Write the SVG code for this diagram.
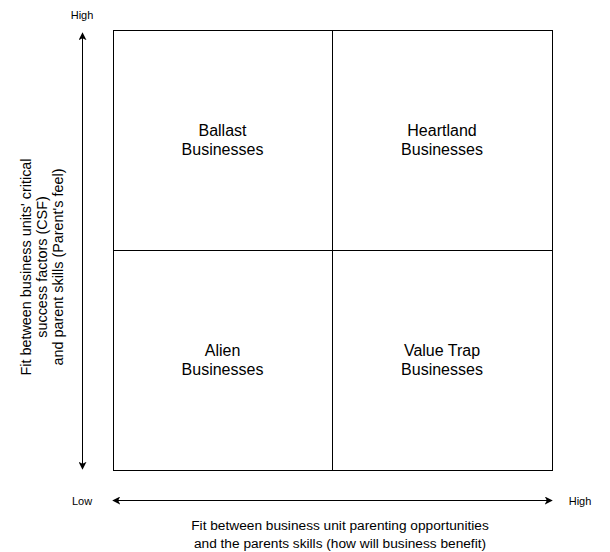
<svg xmlns="http://www.w3.org/2000/svg" width="610" height="552" viewBox="0 0 610 552">
<style>
text{font-family:"Liberation Sans",Arial,sans-serif;fill:#000;text-anchor:middle}
.q{font-size:16px}
.ax{font-size:11px}
.lb{font-size:13.7px}
.lv{font-size:14.4px}
.cell{fill:#fff;stroke:#000;stroke-width:1}
.conn{stroke:#000;stroke-width:1;fill:none}
</style>
<defs>
<marker id="ah" viewBox="0 0 10 10" refX="9" refY="5" markerWidth="8" markerHeight="8" markerUnits="userSpaceOnUse" orient="auto-start-reverse">
<path d="M0,0 L10,5 L0,10 L2.5,5 Z" fill="#000"/>
</marker>
</defs>
<rect width="610" height="552" fill="#fff"/>
<g id="ballast">
<rect class="cell" x="113.5" y="30.5" width="219" height="220"/>
<text class="q" x="222.5" y="136">Ballast</text>
<text class="q" x="222.5" y="155">Businesses</text>
</g>
<g id="heartland">
<rect class="cell" x="332.5" y="30.5" width="220" height="220"/>
<text class="q" x="442" y="136">Heartland</text>
<text class="q" x="442" y="155">Businesses</text>
</g>
<g id="alien">
<rect class="cell" x="113.5" y="250.5" width="219" height="220"/>
<text class="q" x="222.5" y="356">Alien</text>
<text class="q" x="222.5" y="375">Businesses</text>
</g>
<g id="valuetrap">
<rect class="cell" x="332.5" y="250.5" width="220" height="220"/>
<text class="q" x="442" y="356">Value Trap</text>
<text class="q" x="442" y="375">Businesses</text>
</g>
<g id="connectors">
<line class="conn" x1="82.5" y1="33" x2="82.5" y2="469" marker-start="url(#ah)" marker-end="url(#ah)"/>
<line class="conn" x1="113" y1="500.5" x2="552" y2="500.5" marker-start="url(#ah)" marker-end="url(#ah)"/>
</g>
<g id="labels">
<text class="ax" x="82" y="19">High</text>
<text class="ax" x="82" y="505">Low</text>
<text class="ax" x="580" y="505">High</text>
<text class="lb" x="340" y="530">Fit between business unit parenting opportunities</text>
<text class="lb" x="340" y="548">and the parents skills (how will business benefit)</text>
<g transform="translate(0,267) rotate(-90)">
<text class="lv" x="0" y="31">Fit between business units' critical</text>
<text class="lv" x="0" y="47">success factors (CSF)</text>
<text class="lv" x="0" y="63">and parent skills (Parent's feel)</text>
</g>
</g>
</svg>
